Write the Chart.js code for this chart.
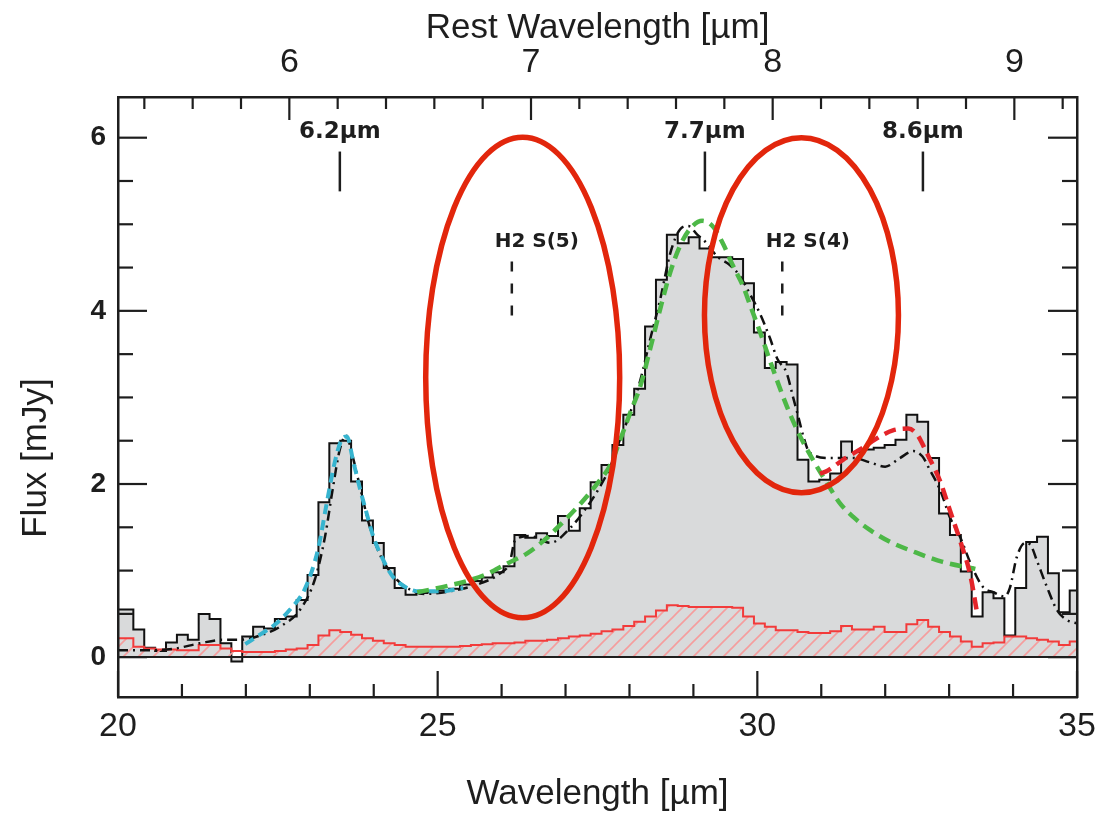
<!DOCTYPE html>
<html><head><meta charset="utf-8">
<script src="https://cdn.jsdelivr.net/npm/chart.js@4.4.1/dist/chart.umd.min.js"></script>
<style>html,body{margin:0;padding:0;background:#fff}#wrap{width:1097px;height:813px;position:relative}</style>
</head><body><div id="wrap"><canvas id="c"></canvas></div>
<script>
// observed wavelength bin centres [µm]
const wavelength = [19.985, 20.155, 20.325, 20.496, 20.666, 20.836, 21.007, 21.177, 21.347, 21.517, 21.688, 21.858, 22.028, 22.199, 22.369, 22.539, 22.710, 22.880, 23.050, 23.220, 23.391, 23.561, 23.731, 23.902, 24.072, 24.242, 24.413, 24.583, 24.753, 24.923, 25.094, 25.264, 25.434, 25.605, 25.775, 25.945, 26.116, 26.286, 26.456, 26.626, 26.797, 26.967, 27.137, 27.308, 27.478, 27.648, 27.819, 27.989, 28.159, 28.329, 28.500, 28.670, 28.840, 29.011, 29.181, 29.351, 29.522, 29.692, 29.862, 30.032, 30.203, 30.373, 30.543, 30.714, 30.884, 31.054, 31.225, 31.395, 31.565, 31.735, 31.906, 32.076, 32.246, 32.417, 32.587, 32.757, 32.928, 33.098, 33.268, 33.438, 33.609, 33.779, 33.949, 34.120, 34.290, 34.460, 34.631, 34.801, 34.971, 35.141];
// measured flux [mJy]
const flux = [0.55, 0.55, 0.32, 0.11, 0.07, 0.17, 0.26, 0.20, 0.50, 0.44, 0.16,
  -0.05, 0.24, 0.35, 0.33, 0.44, 0.47, 0.66, 0.95, 1.79, 2.47,
  2.50, 2.03, 1.58, 1.32, 1.03, 0.80, 0.72, 0.74, 0.75, 0.77,
  0.79, 0.84, 0.88, 0.92, 0.98, 1.05, 1.41, 1.38, 1.43, 1.40,
  1.63, 1.46, 1.72, 2.02, 2.22, 2.45, 2.80, 3.10, 3.82, 4.36,
  4.88, 4.78, 4.85, 4.72, 4.62, 4.62, 4.60, 4.32, 3.75, 3.34,
  3.41, 3.38, 2.28, 2.03, 2.05, 2.12, 2.49, 2.37, 2.40, 2.42,
  2.45, 2.51, 2.80, 2.72, 2.30, 1.66, 1.41, 0.99, 0.47, 0.75,
  0.68, 0.25, 0.80, 1.33, 1.39, 0.97, 0.52, 0.77, 0.77];
// flux uncertainty [mJy]
const fluxError = [0.22, 0.22, 0.12, 0.10, 0.09, 0.09, 0.08, 0.08, 0.14, 0.14, 0.10,
  0.07, 0.06, 0.06, 0.06, 0.07, 0.09, 0.10, 0.14, 0.25, 0.31,
  0.29, 0.26, 0.22, 0.19, 0.16, 0.14, 0.12, 0.12, 0.12, 0.12,
  0.12, 0.13, 0.14, 0.15, 0.16, 0.16, 0.17, 0.19, 0.19, 0.20,
  0.22, 0.24, 0.25, 0.27, 0.30, 0.32, 0.36, 0.41, 0.47, 0.54,
  0.60, 0.59, 0.58, 0.58, 0.58, 0.58, 0.57, 0.47, 0.39, 0.35,
  0.31, 0.31, 0.29, 0.28, 0.28, 0.30, 0.36, 0.32, 0.32, 0.35,
  0.29, 0.29, 0.38, 0.43, 0.35, 0.29, 0.24, 0.18, 0.12, 0.16,
  0.17, 0.24, 0.24, 0.22, 0.20, 0.18, 0.14, 0.18, 0.18];
// total model (dash-dot)
const totalModelWave = [20.00, 20.50, 20.89, 21.28, 21.63, 21.91, 22.22, 22.53, 22.85, 23.08, 23.24, 23.36, 23.47, 23.57, 23.66, 23.79, 23.94, 24.10, 24.33, 24.57, 24.80, 25.19, 25.66, 25.98, 26.13, 26.21, 26.44, 26.76, 27.07, 27.34, 27.54, 27.70, 27.85, 28.01, 28.17, 28.32, 28.48, 28.64, 28.79, 28.92, 29.06, 29.21, 29.37, 29.57, 29.73, 29.88, 30.04, 30.20, 30.31, 30.46, 30.56, 30.64, 30.72, 30.82, 31.14, 31.50, 31.76, 32.00, 32.23, 32.44, 32.58, 32.70, 32.86, 33.01, 33.17, 33.36, 33.53, 33.69, 33.87, 33.95, 34.06, 34.19, 34.27, 34.37, 34.53, 34.69, 34.84, 35.00];
const totalModelFlux = [0.08, 0.08, 0.10, 0.16, 0.20, 0.20, 0.25, 0.35, 0.55, 0.90, 1.40, 1.95, 2.40, 2.56, 2.35, 1.95, 1.50, 1.18, 0.92, 0.78, 0.73, 0.76, 0.85, 0.97, 1.10, 1.35, 1.40, 1.32, 1.49, 1.74, 1.97, 2.20, 2.51, 2.82, 3.20, 3.66, 4.13, 4.67, 4.94, 4.98, 4.88, 4.78, 4.63, 4.53, 4.40, 4.20, 3.97, 3.68, 3.45, 3.28, 3.00, 2.78, 2.55, 2.36, 2.30, 2.30, 2.25, 2.20, 2.30, 2.38, 2.32, 2.16, 1.93, 1.62, 1.39, 1.04, 0.81, 0.75, 0.70, 0.80, 1.16, 1.32, 1.30, 1.12, 0.81, 0.54, 0.43, 0.39];
// 6.2 µm feature fit (cyan)
const pah62Wave = [21.99, 22.22, 22.46, 22.69, 22.93, 23.13, 23.27, 23.39, 23.49, 23.58, 23.68, 23.79, 23.89, 23.99, 24.15, 24.30, 24.52, 24.72, 25.04, 25.40];
const pah62Flux = [0.15, 0.26, 0.38, 0.55, 0.80, 1.25, 1.80, 2.25, 2.50, 2.55, 2.26, 1.93, 1.66, 1.40, 1.12, 0.93, 0.80, 0.76, 0.76, 0.80];
// 7.7 µm feature fit (green)
const pah77Wave = [24.68, 24.88, 25.19, 25.46, 25.77, 26.08, 26.40, 26.65, 26.96, 27.23, 27.49, 27.70, 27.85, 28.01, 28.17, 28.32, 28.48, 28.64, 28.79, 28.95, 29.14, 29.31, 29.46, 29.62, 29.78, 29.89, 30.04, 30.20, 30.46, 30.67, 30.87, 31.09, 31.29, 31.50, 31.76, 32.08, 32.44, 32.90, 33.41];
const pah77Flux = [0.75, 0.78, 0.83, 0.88, 0.96, 1.08, 1.20, 1.34, 1.56, 1.77, 2.00, 2.22, 2.50, 2.82, 3.13, 3.55, 4.02, 4.45, 4.75, 4.95, 5.04, 4.97, 4.78, 4.52, 4.28, 4.06, 3.76, 3.42, 2.90, 2.55, 2.28, 2.01, 1.78, 1.62, 1.47, 1.33, 1.22, 1.10, 1.02];
// 8.6 µm feature fit (red dashed)
const pah86Wave = [30.98, 31.09, 31.34, 31.65, 31.92, 32.12, 32.36, 32.50, 32.65, 32.86, 33.01, 33.17, 33.33, 33.44];
const pah86Flux = [2.12, 2.15, 2.28, 2.42, 2.55, 2.62, 2.64, 2.57, 2.36, 2.03, 1.70, 1.35, 0.95, 0.50];

const xTickLabels = [20, 25, 30, 35];
const yTickLabels = [0, 2, 4, 6];
const restTickLabels = [6, 7, 8, 9];
const redshiftFactor = 3.78; // observed / rest wavelength

// feature identifications (observed wavelength)
const featureNames = ['6.2µm', '7.7µm', '8.6µm'];
const featureWave = [23.47, 29.18, 32.59];
const lineNames = ['H2 S(5)', 'H2 S(4)'];
const lineWave = [26.16, 30.39];
const lineLabelWave = [26.55, 30.79];
// highlighted regions (centre wavelength, centre flux, half-widths)
const ellipseWave = [26.33, 30.69];
const ellipseFlux = [3.23, 3.95];
const ellipseHalfWave = [1.517, 1.517];
const ellipseHalfFlux = [2.775, 2.05];

const pts = (xs, ys) => xs.map((v, i) => ({x: v, y: ys[i]}));

function hatchPattern() {
  const s = 15, c = document.createElement('canvas');
  c.width = s; c.height = s;
  const g = c.getContext('2d');
  g.strokeStyle = '#f59d9d'; g.lineWidth = 1.6;
  g.beginPath();
  g.moveTo(-2, s + 2); g.lineTo(s + 2, -2);
  g.moveTo(-2, 2); g.lineTo(2, -2);
  g.moveTo(s - 2, s + 2); g.lineTo(s + 2, s - 2);
  g.stroke();
  return document.createElement('canvas').getContext('2d').createPattern(c, 'repeat');
}

const INK = '#1e1e1e';

const overlay = {
  id: 'overlay',
  afterDraw(chart) {
    const {ctx, chartArea: a, scales} = chart;
    const x = scales.x, y = scales.y, xt = scales.xTop;
    ctx.save();
    ctx.strokeStyle = INK; ctx.fillStyle = INK; ctx.lineCap = 'butt';
    const seg = (x1, y1, x2, y2) => { ctx.beginPath(); ctx.moveTo(x1, y1); ctx.lineTo(x2, y2); ctx.stroke(); };
    // inward tick marks
    ctx.lineWidth = 2.2;
    for (let v = 20; v <= 35; v++) {
      const px = x.getPixelForValue(v);
      const L = xTickLabels.includes(v) ? 26 : 13;
      seg(px, a.bottom, px, a.bottom - L);
    }
    for (let k = 26; k <= 47; k++) {
      const v = k / 5, px = xt.getPixelForValue(v);
      if (px < a.left + 1 || px > a.right - 1) continue;
      const L = restTickLabels.includes(v) ? 23 : 12;
      seg(px, a.top, px, a.top + L);
    }
    for (let k = 0; k <= 12; k++) {
      const v = k / 2, py = y.getPixelForValue(v);
      const L = yTickLabels.includes(v) ? 29 : 15;
      seg(a.left, py, a.left + L, py);
      seg(a.right, py, a.right - L, py);
    }
    // y-axis title
    ctx.save();
    ctx.translate(36, y.getPixelForValue(2.3));
    ctx.rotate(-Math.PI / 2);
    ctx.font = '35px "Liberation Sans", Arial, sans-serif';
    ctx.textAlign = 'center'; ctx.textBaseline = 'middle';
    ctx.fillText('Flux [mJy]', 0, 0);
    ctx.restore();
    // feature markers
    ctx.lineWidth = 2.5;
    ctx.font = 'bold 23px "DejaVu Sans"';
    ctx.textAlign = 'center'; ctx.textBaseline = 'middle';
    featureWave.forEach((w, i) => {
      const px = x.getPixelForValue(w);
      seg(px, y.getPixelForValue(5.84), px, y.getPixelForValue(5.38));
      ctx.fillText(featureNames[i], px, y.getPixelForValue(6.07));
    });
    ctx.font = 'bold 20px "DejaVu Sans"';
    lineWave.forEach((w, i) => {
      const px = x.getPixelForValue(w);
      ctx.setLineDash([10, 12]);
      seg(px, y.getPixelForValue(4.57), px, y.getPixelForValue(3.92));
      ctx.setLineDash([]);
      ctx.fillText(lineNames[i], x.getPixelForValue(lineLabelWave[i]), y.getPixelForValue(4.80));
    });
    // red ellipses
    ctx.strokeStyle = '#e2260c'; ctx.lineWidth = 5.5;
    ellipseWave.forEach((w, i) => {
      const cx = x.getPixelForValue(w), cy = y.getPixelForValue(ellipseFlux[i]);
      const rx = x.getPixelForValue(w + ellipseHalfWave[i]) - cx;
      const ry = cy - y.getPixelForValue(ellipseFlux[i] + ellipseHalfFlux[i]);
      ctx.beginPath(); ctx.ellipse(cx, cy, rx, ry, 0, 0, Math.PI * 2); ctx.stroke();
    });
    ctx.restore();
  }
};

Chart.defaults.font.family = '"Liberation Sans", Arial, sans-serif';
Chart.defaults.color = INK;

const border = {display: true, color: INK, width: 2.5, z: 1};
const noSidePad = s => { s.paddingLeft = 0; s.paddingRight = 0; };

new Chart(document.getElementById('c'), {
  type: 'line',
  data: {
    datasets: [
      {data: pts(pah86Wave, pah86Flux), borderColor: '#e4252a', borderWidth: 4.5, borderDash: [12, 7], fill: false, tension: 0.4, cubicInterpolationMode: 'monotone'},
      {data: pts(pah77Wave, pah77Flux), borderColor: '#4db847', borderWidth: 4.5, borderDash: [12, 7], fill: false, tension: 0.4, cubicInterpolationMode: 'monotone'},
      {data: pts(pah62Wave, pah62Flux), borderColor: '#37b4cf', borderWidth: 4, borderDash: [10, 6], fill: false, tension: 0.4, cubicInterpolationMode: 'monotone'},
      {data: pts(totalModelWave, totalModelFlux), borderColor: '#111', borderWidth: 2.5, borderDash: [10, 5, 2, 5], fill: false, tension: 0.4, cubicInterpolationMode: 'monotone'},
      {data: pts(wavelength, fluxError), borderColor: '#f23b3b', borderWidth: 2, stepped: 'middle', fill: 'origin', backgroundColor: hatchPattern()},
      {data: pts(wavelength, flux), borderColor: '#111', borderWidth: 2, stepped: 'middle', fill: 'origin', backgroundColor: '#d9dadb'}
    ]
  },
  options: {
    responsive: true, maintainAspectRatio: false, animation: false,
    layout: {padding: 0},
    elements: {point: {radius: 0, hoverRadius: 0}},
    plugins: {legend: {display: false}, tooltip: {enabled: false}},
    events: [],
    scales: {
      x: {
        type: 'linear', position: 'bottom', min: 20, max: 35,
        afterBuildTicks: s => { s.ticks = xTickLabels.map(v => ({value: v})); },
        afterFit: s => { s.height = 116; noSidePad(s); },
        ticks: {font: {size: 34}, padding: 9, maxRotation: 0, color: INK},
        grid: {display: false, drawTicks: false},
        border: border,
        title: {display: true, text: 'Wavelength [µm]', font: {size: 35, lineHeight: 1}, padding: {top: 0, bottom: 1}, color: INK}
      },
      xTop: {
        type: 'linear', position: 'top', min: 20 / redshiftFactor, max: 35 / redshiftFactor,
        afterBuildTicks: s => { s.ticks = restTickLabels.map(v => ({value: v})); },
        afterFit: s => { s.height = 97; noSidePad(s); },
        ticks: {font: {size: 34}, padding: 14, maxRotation: 0, color: INK},
        grid: {display: false, drawTicks: false},
        border: border,
        title: {display: true, text: 'Rest Wavelength [µm]', font: {size: 35, lineHeight: 1}, padding: {top: 11, bottom: 0}, color: INK}
      },
      y: {
        type: 'linear', position: 'left', min: -0.46, max: 6.47,
        afterBuildTicks: s => { s.ticks = yTickLabels.map(v => ({value: v})); },
        afterFit: s => { s.width = 118; },
        ticks: {font: {size: 28, weight: 'bold'}, padding: 12, color: INK},
        grid: {drawTicks: false, z: 1, lineWidth: 2, color: c => (c.tick && c.tick.value === 0) ? INK : 'rgba(0,0,0,0)'},
        border: border,
        title: {display: false}
      },
      yRight: {
        type: 'linear', position: 'right', min: 0, max: 1,
        afterFit: s => { s.width = 20; },
        ticks: {display: false},
        grid: {display: false, drawTicks: false},
        border: border
      }
    }
  },
  plugins: [overlay]
});
</script></body></html>
